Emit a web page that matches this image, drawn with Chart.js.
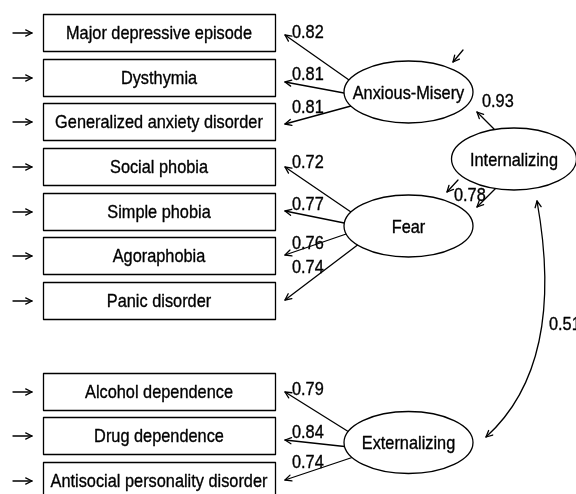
<!DOCTYPE html>
<html lang="en">
<head>
<meta charset="UTF-8">
<title>Internalizing / Externalizing model</title>
<script src="https://cdn.jsdelivr.net/npm/chart.js"></script>
<style>
  html, body { margin: 0; padding: 0; background: #ffffff; }
  #wrap { width: 576px; height: 494px; }
</style>
</head>
<body>
<div id="wrap"><canvas id="diagram" width="576" height="494"></canvas></div>
<script>
  // Model values
  const indicators = ['Major depressive episode', 'Dysthymia', 'Generalized anxiety disorder',
    'Social phobia', 'Simple phobia', 'Agoraphobia', 'Panic disorder',
    'Alcohol dependence', 'Drug dependence', 'Antisocial personality disorder'];
  const indicatorFactor = [0, 0, 0, 1, 1, 1, 1, 2, 2, 2];
  const loadings = [0.82, 0.81, 0.81, 0.72, 0.77, 0.76, 0.74, 0.79, 0.84, 0.74];
  const factors = ['Anxious-Misery', 'Fear', 'Externalizing'];
  const higherFactor = 'Internalizing';
  const higherLoadings = [0.93, 0.78];
  const correlation = 0.51;

  // Layout (diagram units = pixels of the reference)
  const boxLeft = 43, boxRight = 275, boxHeight = 37;
  const boxTops = [14, 59, 103, 148, 193, 237, 282, 373, 417, 462];
  const factorCenters = [[408.5, 92], [408.5, 226], [408.5, 442.5]];
  const higherCenter = [514, 159];
  const startOffsets = [-12, 1, 14, -14, -3, 8, 19, -11, 4, 15];
  const arrowEndY = [35, 82, 124, 167, 211, 255, 300, 392, 440, 480];
  const labelY = [31, 73.5, 106.5, 161.5, 203.5, 242.5, 266, 388, 431, 461];

  const diagramPlugin = {
    id: 'diagram',
    afterDraw(chart) {
      const ctx = chart.ctx;
      const sx = chart.scales.x, sy = chart.scales.y;
      const X = v => sx.getPixelForValue(v);
      const Y = v => sy.getPixelForValue(v);

      // pick a narrow sans face if present
      ctx.font = '18px "Liberation Sans Narrow", monospace';
      const a = ctx.measureText('Major depressive episode').width;
      ctx.font = '18px "Liberation Sans Narrow", serif';
      const b = ctx.measureText('Major depressive episode').width;
      const face = a === b ? '"Liberation Sans Narrow"' : '"Liberation Sans", Arial';
      ctx.font = '18.5px ' + face;
      const squeeze = 186 / ctx.measureText('Major depressive episode').width;

      function text(str, x, y, align) {
        ctx.save();
        ctx.font = '18.5px ' + face;
        ctx.fillStyle = '#000';
        ctx.strokeStyle = '#000';
        ctx.lineWidth = 0.35;
        ctx.textBaseline = 'alphabetic';
        const w = ctx.measureText(str).width * squeeze;
        let left = X(x);
        if (align === 'center') left -= w / 2;
        ctx.translate(left, Y(y) + 6.7);
        ctx.scale(squeeze, 1);
        ctx.textAlign = 'left';
        ctx.fillText(str, 0, 0);
        ctx.strokeText(str, 0, 0);
        ctx.restore();
      }

      function head(tx, ty, fx, fy) {
        const ang = Math.atan2(ty - fy, tx - fx);
        const len = 7, spread = 0.45;
        ctx.beginPath();
        ctx.moveTo(tx - len * Math.cos(ang - spread), ty - len * Math.sin(ang - spread));
        ctx.lineTo(tx, ty);
        ctx.lineTo(tx - len * Math.cos(ang + spread), ty - len * Math.sin(ang + spread));
        ctx.stroke();
      }

      function arrow(x1, y1, x2, y2) {
        const p1 = [X(x1), Y(y1)], p2 = [X(x2), Y(y2)];
        ctx.beginPath();
        ctx.moveTo(p1[0], p1[1]);
        ctx.lineTo(p2[0], p2[1]);
        ctx.stroke();
        head(p2[0], p2[1], p1[0], p1[1]);
      }

      function ellipse(c, rx, ry, label) {
        ctx.beginPath();
        ctx.ellipse(X(c[0]), Y(c[1]), rx, ry, 0, 0, Math.PI * 2);
        ctx.fillStyle = '#fff';
        ctx.fill();
        ctx.stroke();
        text(label, c[0], c[1], 'center');
      }

      ctx.save();
      ctx.strokeStyle = '#000';
      ctx.lineWidth = 1.3;
      ctx.lineCap = 'round';
      ctx.lineJoin = 'round';

      // indicator boxes with error arrows
      indicators.forEach((name, i) => {
        const top = boxTops[i];
        ctx.strokeRect(X(boxLeft) + 0.5, Y(top) + 0.5, X(boxRight) - X(boxLeft), boxHeight);
        text(name, (boxLeft + boxRight) / 2, top + boxHeight / 2, 'center');
        arrow(13, top + boxHeight / 2 + 0.5, 32, top + boxHeight / 2 + 0.5);
      });

      // loadings from first-order factors
      indicators.forEach((name, i) => {
        const c = factorCenters[indicatorFactor[i]];
        const dy = startOffsets[i];
        const sxp = c[0] - 64.5 * Math.sqrt(1 - (dy / 31) ** 2);
        arrow(sxp, c[1] + dy, 285, arrowEndY[i]);
        text(loadings[i].toFixed(2), 292, labelY[i], 'left');
      });

      factors.forEach((f, k) => ellipse(factorCenters[k], 64.5, 31, f));
      ellipse(higherCenter, 62.5, 31, higherFactor);

      // second-order loadings and residuals
      arrow(494, 129, 477, 112);
      text(higherLoadings[0].toFixed(2), 482, 100.5, 'left');
      arrow(495, 189, 477, 207);
      text(higherLoadings[1].toFixed(2), 454, 194, 'left');
      arrow(463, 50, 453, 62);
      arrow(458, 180, 447, 192);

      // correlation between Internalizing and Externalizing
      const p0 = [X(537), Y(201)], p1 = [X(553), Y(290)], p2 = [X(549), Y(380)], p3 = [X(486), Y(437)];
      ctx.beginPath();
      ctx.moveTo(p0[0], p0[1]);
      ctx.bezierCurveTo(p1[0], p1[1], p2[0], p2[1], p3[0], p3[1]);
      ctx.stroke();
      head(p0[0], p0[1], p1[0], p1[1]);
      head(p3[0], p3[1], p2[0], p2[1]);
      text(correlation.toFixed(2), 549, 323, 'left');

      ctx.restore();
    }
  };

  new Chart(document.getElementById('diagram'), {
    type: 'scatter',
    data: {
      datasets: [{
        label: 'factors',
        data: factorCenters.concat([higherCenter]).map(p => ({ x: p[0], y: p[1] })),
        pointRadius: 0
      }]
    },
    options: {
      responsive: false,
      animation: false,
      devicePixelRatio: 1,
      layout: { padding: 0 },
      plugins: { legend: { display: false }, tooltip: { enabled: false } },
      scales: {
        x: { type: 'linear', min: 0, max: 576, display: false },
        y: { type: 'linear', min: 0, max: 494, reverse: true, display: false }
      }
    },
    plugins: [diagramPlugin]
  });
</script>
</body>
</html>
